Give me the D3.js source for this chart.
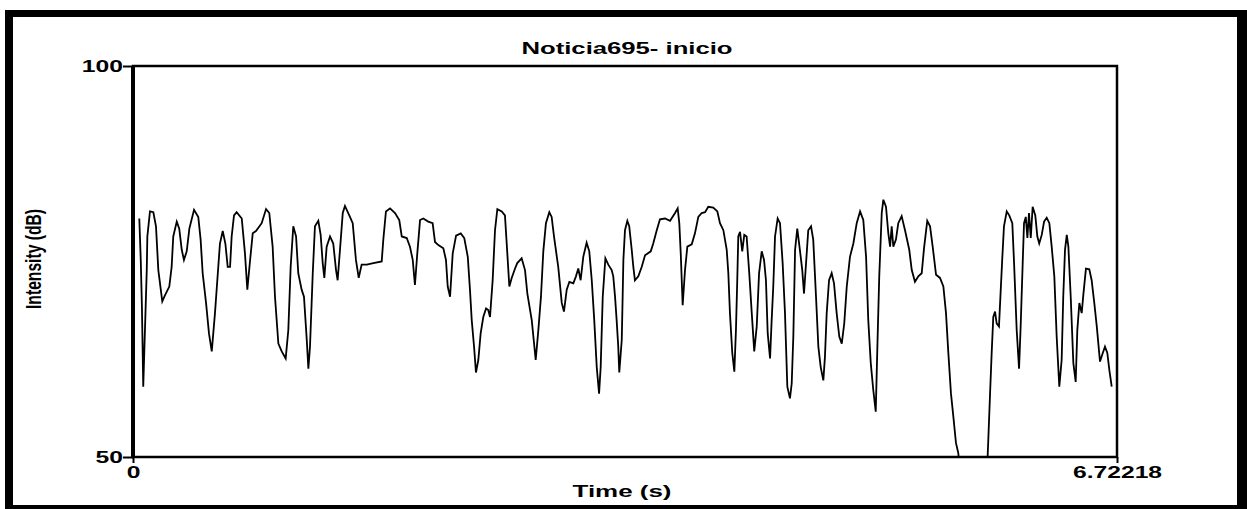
<!DOCTYPE html>
<html>
<head>
<meta charset="utf-8">
<script src="https://d3js.org/d3.v7.min.js"></script>
<style>
  body { margin: 0; background: #fff; }
  svg { display: block; }
  text { font-family: "Liberation Sans", Arial, sans-serif; font-weight: bold; fill: #000; }
</style>
</head>
<body>
<svg></svg>
<script>
let title = "Noticia695- inicio";
let xLabel = "Time (s)";
let yLabel = "Intensity (dB)";

let xTicks = [0, 6.72218];
let xTickLabels = ["0", "6.72218"];
let yTicks = [50, 100];
let yTickLabels = ["50", "100"];

// intensity contour (s, dB)
let times = [
  0.043, 0.053, 0.061, 0.070, 0.094, 0.098, 0.116, 0.139, 0.157, 0.173, 0.200, 0.219, 0.248, 0.264, 0.275, 0.299,
  0.316, 0.333, 0.348, 0.367, 0.385, 0.417, 0.446, 0.462, 0.476, 0.499, 0.519, 0.538, 0.560, 0.576, 0.594, 0.613,
  0.631, 0.647, 0.663, 0.674, 0.690, 0.708, 0.743, 0.765, 0.781, 0.799, 0.818, 0.840, 0.879, 0.909, 0.931, 0.954,
  0.970, 0.993, 1.016, 1.043, 1.061, 1.077, 1.095, 1.114, 1.129, 1.152, 1.168, 1.187, 1.198, 1.209, 1.228, 1.243,
  1.266, 1.282, 1.296, 1.307, 1.323, 1.346, 1.368, 1.387, 1.398, 1.414, 1.433, 1.448, 1.482, 1.501, 1.523, 1.542,
  1.562, 1.597, 1.642, 1.699, 1.710, 1.728, 1.756, 1.790, 1.819, 1.836, 1.870, 1.892, 1.911, 1.926, 1.942, 1.961,
  1.983, 2.017, 2.047, 2.063, 2.086, 2.120, 2.138, 2.150, 2.166, 2.184, 2.207, 2.239, 2.263, 2.287, 2.302, 2.314,
  2.330, 2.343, 2.359, 2.375, 2.393, 2.412, 2.427, 2.439, 2.457, 2.473, 2.489, 2.519, 2.541, 2.553, 2.571, 2.587,
  2.610, 2.625, 2.655, 2.678, 2.694, 2.724, 2.751, 2.769, 2.787, 2.803, 2.821, 2.844, 2.860, 2.876, 2.905, 2.929,
  2.944, 2.963, 2.981, 3.008, 3.026, 3.042, 3.058, 3.076, 3.099, 3.117, 3.134, 3.151, 3.168, 3.184, 3.195, 3.209,
  3.227, 3.247, 3.270, 3.281, 3.293, 3.304, 3.315, 3.322, 3.339, 3.345, 3.350, 3.361, 3.377, 3.390, 3.407, 3.418,
  3.429, 3.452, 3.475, 3.498, 3.537, 3.554, 3.578, 3.600, 3.634, 3.669, 3.703, 3.721, 3.732, 3.742, 3.755, 3.771,
  3.787, 3.817, 3.839, 3.862, 3.885, 3.908, 3.930, 3.964, 3.992, 4.010, 4.033, 4.056, 4.067, 4.078, 4.094, 4.108,
  4.119, 4.128, 4.135, 4.147, 4.162, 4.176, 4.192, 4.210, 4.227, 4.244, 4.261, 4.277, 4.295, 4.311, 4.324, 4.336,
  4.352, 4.363, 4.374, 4.386, 4.404, 4.420, 4.438, 4.454, 4.470, 4.488, 4.500, 4.511, 4.523, 4.538, 4.557, 4.572,
  4.584, 4.598, 4.613, 4.632, 4.647, 4.666, 4.682, 4.698, 4.716, 4.727, 4.739, 4.755, 4.773, 4.789, 4.807, 4.825,
  4.842, 4.859, 4.876, 4.898, 4.921, 4.944, 4.967, 4.989, 5.008, 5.023, 5.040, 5.057, 5.074, 5.087, 5.098, 5.115,
  5.126, 5.144, 5.160, 5.172, 5.183, 5.194, 5.212, 5.228, 5.251, 5.274, 5.303, 5.320, 5.342, 5.365, 5.388, 5.404,
  5.426, 5.445, 5.463, 5.486, 5.513, 5.536, 5.554, 5.570, 5.588, 5.604, 5.622, 5.638, 5.650, 5.834, 5.843, 5.855,
  5.866, 5.877, 5.889, 5.900, 5.916, 5.928, 5.939, 5.950, 5.969, 5.986, 6.007, 6.019, 6.037, 6.053, 6.064, 6.078,
  6.087, 6.099, 6.110, 6.121, 6.133, 6.146, 6.164, 6.178, 6.191, 6.208, 6.224, 6.242, 6.260, 6.276, 6.294, 6.310,
  6.328, 6.344, 6.355, 6.367, 6.379, 6.390, 6.406, 6.424, 6.440, 6.451, 6.465, 6.481, 6.492, 6.510, 6.533, 6.549,
  6.567, 6.584, 6.606, 6.625, 6.640, 6.656, 6.670, 6.686
];

let intensity = [
  80.5, 75.2, 69.1, 59.0, 73.9, 78.2, 81.4, 81.3, 79.5, 73.9, 69.9, 70.7, 71.8, 74.3, 78.2, 80.1,
  79.2, 76.5, 75.2, 76.3, 79.2, 81.6, 80.7, 77.8, 73.5, 69.7, 65.8, 63.5, 68.4, 72.6, 77.3, 78.9,
  77.3, 74.3, 74.3, 78.2, 80.9, 81.3, 80.5, 76.0, 71.4, 75.0, 78.6, 78.9, 79.9, 81.7, 81.2, 76.9,
  70.5, 64.5, 63.5, 62.6, 66.2, 74.3, 79.5, 78.2, 73.5, 71.4, 70.5, 65.0, 61.3, 64.1, 73.5, 79.5,
  80.2, 78.4, 74.8, 72.9, 76.9, 78.2, 77.3, 73.9, 72.6, 76.5, 81.2, 82.1, 80.7, 79.9, 75.2, 72.9,
  74.6, 74.6, 74.8, 75.0, 77.8, 81.4, 81.8, 81.2, 80.3, 78.2, 78.0, 76.9, 75.2, 72.0, 76.0, 80.3,
  80.5, 80.1, 79.9, 77.5, 77.1, 76.7, 75.2, 71.8, 70.5, 76.0, 78.3, 78.6, 78.0, 75.6, 71.4, 67.5,
  64.1, 60.8, 62.4, 65.8, 67.9, 69.0, 68.8, 67.9, 72.6, 79.0, 81.7, 81.4, 80.9, 77.3, 71.8, 72.9,
  74.1, 74.8, 75.4, 73.9, 70.9, 67.5, 62.4, 66.2, 70.5, 76.3, 79.9, 81.3, 80.7, 78.2, 74.3, 69.7,
  68.6, 71.4, 72.4, 72.2, 73.1, 74.1, 72.6, 75.6, 77.4, 76.3, 72.6, 67.5, 61.5, 58.1, 61.5, 70.5,
  75.4, 74.6, 73.9, 73.1, 70.5, 67.5, 64.1, 60.8, 65.0, 70.5, 75.2, 79.0, 80.2, 79.5, 76.5, 74.3,
  72.6, 73.1, 74.3, 75.8, 76.3, 77.3, 79.0, 80.4, 80.5, 80.2, 81.2, 81.8, 79.9, 76.0, 69.4, 73.9,
  76.9, 77.2, 78.6, 80.7, 81.2, 81.3, 82.0, 81.9, 81.4, 79.9, 79.0, 76.5, 73.5, 68.4, 63.3, 60.9,
  66.2, 72.6, 78.2, 78.8, 76.3, 78.4, 78.2, 73.5, 68.4, 63.5, 66.7, 73.5, 76.3, 75.2, 72.6, 65.8,
  62.6, 67.5, 71.8, 78.2, 80.5, 79.9, 74.8, 68.4, 59.0, 57.5, 59.4, 65.4, 76.5, 79.2, 76.3, 73.9,
  70.9, 74.8, 79.0, 79.5, 77.8, 70.5, 64.1, 61.5, 59.8, 62.8, 68.4, 72.6, 73.5, 72.2, 68.4, 65.4,
  64.5, 67.1, 71.8, 75.6, 77.3, 79.9, 81.4, 80.3, 75.6, 67.5, 62.0, 58.6, 55.8, 65.4, 73.1, 81.2,
  82.9, 82.0, 78.6, 76.9, 79.5, 76.9, 77.8, 79.9, 80.8, 79.0, 76.5, 73.9, 72.4, 73.1, 73.5, 76.7,
  80.2, 79.5, 76.9, 73.3, 72.9, 71.8, 68.4, 63.3, 58.1, 55.2, 51.8, 50.5, 48.0, 48.0, 52.2, 58.1,
  63.3, 67.9, 68.6, 67.1, 66.7, 71.4, 75.6, 79.5, 81.4, 80.9, 79.9, 74.8, 66.2, 61.3, 66.7, 74.8,
  79.9, 80.7, 78.0, 81.2, 78.0, 82.0, 80.9, 78.2, 77.3, 78.4, 80.1, 80.6, 79.9, 76.9, 73.1, 65.4,
  59.0, 62.4, 70.5, 76.5, 78.4, 76.9, 70.5, 62.0, 59.6, 66.2, 69.7, 68.4, 70.7, 74.1, 74.0, 72.6,
  69.7, 66.7, 62.2, 63.3, 64.1, 63.3, 61.1, 59.0
];

let width = 1247;
let height = 509;
let plotLeft = 133, plotRight = 1117, plotTop = 66, plotBottom = 457;

let xScale;
let yScale;

let svg = d3.select("svg");

function drawCanvas() {
    svg.attr("width", width)
       .attr("height", height);

    // heavy black frame round the whole picture
    svg.append("rect")
       .attr("x", 5).attr("y", 10)
       .attr("width", width - 5).attr("height", height - 10)
       .attr("fill", "#000");
    svg.append("rect")
       .attr("x", 13).attr("y", 17)
       .attr("width", 1237 - 13).attr("height", 505 - 17)
       .attr("fill", "#fff");

    svg.append("defs").append("clipPath")
       .attr("id", "plot-clip")
       .append("rect")
       .attr("x", plotLeft).attr("y", plotTop)
       .attr("width", plotRight - plotLeft).attr("height", plotBottom - plotTop);
}

function generateScales() {
    xScale = d3.scaleLinear()
               .domain([xTicks[0], xTicks[1]])
               .range([plotLeft, plotRight]);

    yScale = d3.scaleLinear()
               .domain([yTicks[0], yTicks[1]])
               .range([plotBottom, plotTop]);
}

function drawLine() {
    let points = times.map((t, i) => [t, intensity[i]]);

    let line = d3.line()
                 .x(d => xScale(d[0]))
                 .y(d => yScale(d[1]));

    svg.append("path")
       .datum(points)
       .attr("clip-path", "url(#plot-clip)")
       .attr("fill", "none")
       .attr("stroke", "#000")
       .attr("stroke-width", 1.8)
       .attr("d", line);
}

function stretch(sel, k) {
    sel.each(function() {
        let w = this.getComputedTextLength();
        d3.select(this)
          .attr("textLength", w * k)
          .attr("lengthAdjust", "spacingAndGlyphs");
    });
}

function generateAxes() {
    // box round the plot
    svg.append("rect")
       .attr("x", plotLeft).attr("y", plotTop)
       .attr("width", plotRight - plotLeft).attr("height", plotBottom - plotTop)
       .attr("fill", "none")
       .attr("stroke", "#000")
       .attr("stroke-width", 2.5);

    svg.append("line")
       .attr("x1", plotLeft).attr("x2", plotLeft)
       .attr("y1", plotTop).attr("y2", plotBottom)
       .attr("stroke", "#000")
       .attr("stroke-width", 4);

    let yAxis = d3.axisLeft(yScale)
                  .tickValues(yTicks)
                  .tickFormat((d, i) => yTickLabels[i])
                  .tickSize(10)
                  .tickPadding(0);

    let gy = svg.append("g")
       .attr("id", "y-axis")
       .attr("transform", `translate(${plotLeft}, 0)`)
       .call(yAxis);
    gy.select(".domain").remove();
    gy.selectAll("line").attr("stroke", "#000").attr("stroke-width", 2);
    gy.selectAll("text")
      .attr("font-size", 17)
      .attr("font-family", null)
      .call(stretch, 1.45);

    let xAxis = d3.axisBottom(xScale)
                  .tickValues(xTicks)
                  .tickFormat((d, i) => xTickLabels[i])
                  .tickSize(6)
                  .tickPadding(3);

    let gx = svg.append("g")
       .attr("id", "x-axis")
       .attr("transform", `translate(0, ${plotBottom})`)
       .call(xAxis);
    gx.select(".domain").remove();
    gx.selectAll("line").attr("stroke", "#000").attr("stroke-width", 2);
    gx.selectAll("text")
      .attr("font-size", 17)
      .attr("font-family", null)
      .call(stretch, 1.45);

    svg.append("text")
       .attr("x", 627)
       .attr("y", 54)
       .attr("text-anchor", "middle")
       .attr("font-size", 16)
       .attr("textLength", 211)
       .attr("lengthAdjust", "spacingAndGlyphs")
       .text(title);

    svg.append("text")
       .attr("x", 622)
       .attr("y", 497)
       .attr("text-anchor", "middle")
       .attr("font-size", 16)
       .attr("textLength", 99)
       .attr("lengthAdjust", "spacingAndGlyphs")
       .text(xLabel);

    svg.append("text")
       .attr("transform", "translate(41, 259) rotate(-90)")
       .attr("text-anchor", "middle")
       .attr("font-size", 22)
       .attr("textLength", 100)
       .attr("lengthAdjust", "spacingAndGlyphs")
       .text(yLabel);
}

drawCanvas();
generateScales();
drawLine();
generateAxes();
</script>
</body>
</html>
